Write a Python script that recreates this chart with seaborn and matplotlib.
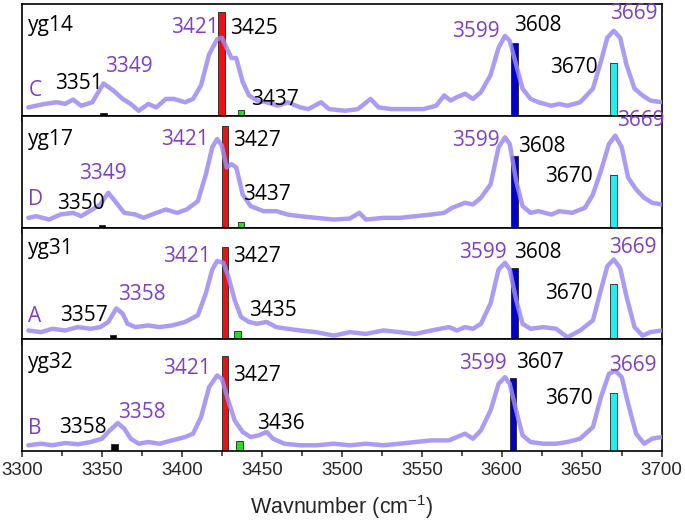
import matplotlib
matplotlib.use("Agg")
import matplotlib.pyplot as plt
import seaborn as sns
import numpy as np
import pandas as pd

# ---- data ----
sample_names = ["yg14", "yg17", "yg31", "yg32"]
panel_letters = ["C", "D", "A", "B"]

wn_c = [3304, 3314, 3322, 3327, 3332, 3337, 3344, 3351, 3357, 3363, 3368, 3373, 3379, 3384,
        3390, 3395, 3402, 3407, 3412, 3417, 3422, 3425, 3429, 3431, 3434, 3438, 3442, 3447,
        3453, 3460, 3466, 3474, 3479, 3487, 3492, 3502, 3510, 3518, 3523, 3531, 3541, 3551,
        3559, 3564, 3568, 3572, 3577, 3582, 3587, 3593, 3598, 3602, 3605, 3609, 3613, 3618,
        3623, 3631, 3636, 3641, 3649, 3657, 3662, 3666, 3670, 3674, 3678, 3683, 3688, 3693, 3700]
int_c = [0.076, 0.107, 0.122, 0.107, 0.146, 0.091, 0.122, 0.290, 0.229, 0.152, 0.107, 0.046,
         0.107, 0.076, 0.152, 0.152, 0.122, 0.152, 0.274, 0.549, 0.686, 0.700, 0.579, 0.518,
         0.518, 0.305, 0.183, 0.137, 0.122, 0.091, 0.122, 0.076, 0.061, 0.122, 0.061, 0.046,
         0.061, 0.152, 0.076, 0.061, 0.061, 0.061, 0.091, 0.183, 0.137, 0.168, 0.198, 0.152,
         0.213, 0.366, 0.610, 0.716, 0.671, 0.457, 0.244, 0.152, 0.122, 0.091, 0.107, 0.091,
         0.122, 0.244, 0.488, 0.700, 0.762, 0.700, 0.457, 0.244, 0.183, 0.137, 0.122]

wn_d = [3304, 3309, 3317, 3324, 3332, 3337, 3344, 3349, 3354, 3359, 3364, 3371, 3376, 3384,
        3390, 3397, 3403, 3410, 3415, 3419, 3422, 3425, 3428, 3431, 3434, 3438, 3443, 3451,
        3459, 3466, 3474, 3484, 3495, 3505, 3511, 3515, 3526, 3536, 3546, 3556, 3564, 3569,
        3577, 3582, 3587, 3593, 3598, 3602, 3605, 3609, 3613, 3618, 3623, 3631, 3636, 3644,
        3652, 3657, 3662, 3667, 3671, 3675, 3679, 3684, 3689, 3694, 3700]
int_d = [0.087, 0.102, 0.072, 0.117, 0.132, 0.102, 0.162, 0.207, 0.312, 0.222, 0.132, 0.117,
         0.087, 0.132, 0.162, 0.132, 0.162, 0.237, 0.477, 0.718, 0.793, 0.733, 0.538, 0.568,
         0.538, 0.297, 0.192, 0.147, 0.147, 0.117, 0.102, 0.087, 0.072, 0.081, 0.132, 0.072,
         0.087, 0.087, 0.102, 0.117, 0.132, 0.177, 0.222, 0.207, 0.267, 0.387, 0.718, 0.808,
         0.748, 0.417, 0.192, 0.132, 0.147, 0.117, 0.147, 0.132, 0.177, 0.297, 0.508, 0.748,
         0.823, 0.718, 0.447, 0.342, 0.267, 0.222, 0.207]

wn_a = [3304, 3312, 3319, 3327, 3335, 3343, 3349, 3354, 3359, 3363, 3366, 3371, 3379, 3386,
        3394, 3402, 3410, 3415, 3419, 3422, 3426, 3429, 3433, 3437, 3442, 3447, 3453, 3459,
        3466, 3474, 3484, 3495, 3505, 3515, 3526, 3536, 3546, 3556, 3567, 3572, 3577, 3582,
        3587, 3593, 3598, 3602, 3605, 3609, 3613, 3618, 3626, 3634, 3641, 3649, 3657, 3662,
        3666, 3670, 3674, 3678, 3683, 3688, 3693, 3700]
int_a = [0.079, 0.064, 0.094, 0.079, 0.109, 0.094, 0.109, 0.155, 0.276, 0.230, 0.139, 0.109,
         0.124, 0.109, 0.124, 0.155, 0.215, 0.412, 0.624, 0.700, 0.685, 0.564, 0.352, 0.200,
         0.155, 0.139, 0.155, 0.109, 0.094, 0.079, 0.064, 0.033, 0.064, 0.048, 0.079, 0.064,
         0.048, 0.079, 0.109, 0.079, 0.109, 0.094, 0.139, 0.321, 0.624, 0.685, 0.624, 0.352,
         0.139, 0.094, 0.109, 0.094, 0.018, 0.079, 0.170, 0.442, 0.655, 0.715, 0.639, 0.382,
         0.109, 0.033, 0.064, 0.079]

wn_b = [3304, 3312, 3319, 3327, 3335, 3343, 3350, 3355, 3360, 3364, 3368, 3373, 3379, 3386,
        3394, 3402, 3407, 3412, 3417, 3422, 3425, 3429, 3433, 3438, 3443, 3448, 3453, 3457,
        3464, 3474, 3484, 3495, 3505, 3515, 3526, 3536, 3546, 3556, 3567, 3572, 3577, 3582,
        3587, 3593, 3598, 3602, 3605, 3609, 3613, 3618, 3626, 3634, 3641, 3649, 3657, 3662,
        3667, 3671, 3675, 3679, 3684, 3689, 3694, 3700]
int_b = [0.051, 0.065, 0.051, 0.071, 0.060, 0.080, 0.110, 0.185, 0.250, 0.199, 0.110, 0.065,
         0.080, 0.065, 0.095, 0.125, 0.155, 0.304, 0.571, 0.676, 0.646, 0.452, 0.274, 0.170,
         0.125, 0.140, 0.170, 0.110, 0.065, 0.051, 0.051, 0.065, 0.051, 0.065, 0.051, 0.065,
         0.080, 0.095, 0.095, 0.125, 0.155, 0.110, 0.185, 0.363, 0.601, 0.661, 0.601, 0.363,
         0.140, 0.080, 0.065, 0.065, 0.080, 0.110, 0.214, 0.482, 0.690, 0.720, 0.661, 0.423,
         0.155, 0.065, 0.110, 0.125]

spectra_wn = [wn_c, wn_d, wn_a, wn_b]
spectra_int = [int_c, int_d, int_a, int_b]

# computed bands: position and relative height for each panel
bar_colors = ["black", "#ee1111", "#22dd22", "#0000cc", "#22eeee"]
bar_pos = [[3351, 3425, 3437, 3608, 3670],
           [3350, 3427, 3437, 3608, 3670],
           [3357, 3427, 3435, 3608, 3670],
           [3358, 3427, 3436, 3607, 3670]]
bar_height = [[0.03, 0.93, 0.055, 0.655, 0.47],
              [0.027, 0.907, 0.05, 0.643, 0.468],
              [0.042, 0.83, 0.073, 0.64, 0.497],
              [0.065, 0.848, 0.089, 0.655, 0.52]]

# labels: (text, x, y, ha, colour key)  x in cm-1, y in panel fraction
labels = [
    [("3351", 3321, 0.29, "left", "k"), ("3349", 3352, 0.44, "left", "p"),
     ("3421", 3423, 0.79, "right", "p"), ("3425", 3430, 0.78, "left", "k"),
     ("3437", 3443, 0.15, "left", "k"), ("3599", 3599, 0.76, "right", "p"),
     ("3608", 3608, 0.81, "left", "k"), ("3669", 3668, 0.915, "left", "p"),
     ("3670", 3660, 0.43, "right", "k")],
    [("3350", 3322, 0.22, "left", "k"), ("3349", 3336, 0.48, "left", "p"),
     ("3421", 3417, 0.79, "right", "p"), ("3427", 3432, 0.78, "left", "k"),
     ("3437", 3438, 0.30, "left", "k"), ("3599", 3599, 0.78, "right", "p"),
     ("3608", 3610, 0.73, "left", "k"), ("3669", 3672, 0.96, "left", "p"),
     ("3670", 3657, 0.46, "right", "k")],
    [("3357", 3324, 0.215, "left", "k"), ("3358", 3360, 0.40, "left", "p"),
     ("3421", 3418, 0.745, "right", "p"), ("3427", 3432, 0.745, "left", "k"),
     ("3435", 3442, 0.26, "left", "k"), ("3599", 3603, 0.775, "right", "p"),
     ("3608", 3608, 0.775, "left", "k"), ("3669", 3667, 0.82, "left", "p"),
     ("3670", 3657, 0.41, "right", "k")],
    [("3358", 3323, 0.214, "left", "k"), ("3358", 3360, 0.348, "left", "p"),
     ("3421", 3418, 0.735, "right", "p"), ("3427", 3432, 0.676, "left", "k"),
     ("3436", 3447, 0.244, "left", "k"), ("3599", 3603, 0.78, "right", "p"),
     ("3607", 3609, 0.795, "left", "k"), ("3669", 3667, 0.765, "left", "p"),
     ("3670", 3657, 0.467, "right", "k")],
]
name_y = [0.81, 0.79, 0.81, 0.795]
letter_y = [0.23, 0.25, 0.20, 0.20]

# ---- styling ----
sns.set_style("ticks")
plt.rcParams['font.family'] = ['Liberation Sans', 'DejaVu Sans']
plt.rcParams['mathtext.default'] = 'regular'

line_color = "#9d8af0"
purple = "#7d3fc8"
ann_font = "Open Sans"
ann_size = 15

fig, axes = plt.subplots(4, 1, figsize=(6.85, 5.25), dpi=100, sharex=True)
fig.subplots_adjust(left=0.032, right=0.966, top=0.992, bottom=0.141, hspace=0)

for i, ax in enumerate(axes):
    ax.bar(bar_pos[i], bar_height[i], width=4.2, color=bar_colors, edgecolor="#222222",
           linewidth=0.6, zorder=2)
    df = pd.DataFrame({"wn": spectra_wn[i], "absorb": spectra_int[i]})
    sns.lineplot(data=df, x="wn", y="absorb", ax=ax, color=line_color, lw=3.2,
                 alpha=0.85, zorder=3, solid_joinstyle="round", solid_capstyle="round")

    ax.text(3304, name_y[i], sample_names[i], fontsize=ann_size, family=ann_font,
            va="center", ha="left", color="black", zorder=5)
    ax.text(3304, letter_y[i], panel_letters[i], fontsize=ann_size, family=ann_font,
            va="center", ha="left", color=purple, zorder=5)
    for txt, x, y, ha, c in labels[i]:
        ax.text(x, y, txt, fontsize=ann_size, family=ann_font, ha=ha, va="center",
                color=purple if c == "p" else "black", zorder=5, clip_on=False)

    ax.set_xlim(3300, 3700)
    ax.set_ylim(0, 1)
    ax.set_yticks([])
    ax.set_ylabel("")
    ax.set_xlabel("")
    ax.set_xticks(np.arange(3300, 3701, 50))
    ax.set_xticks(np.arange(3325, 3700, 50), minor=True)
    ax.tick_params(axis="x", which="major", direction="out", length=4.5, width=1.1,
                   labelsize=13.5)
    ax.tick_params(axis="x", which="minor", direction="out", length=3.5, width=1.1)
    for s in ax.spines.values():
        s.set_visible(True)
        s.set_linewidth(1.2)
        s.set_color("black")
    if i < 3:
        ax.tick_params(axis="x", labelbottom=False)

axes[-1].set_xlabel("Wavnumber (cm$^{-1}$)", fontsize=15.5, labelpad=10)

fig.savefig("out.png", dpi=100)
